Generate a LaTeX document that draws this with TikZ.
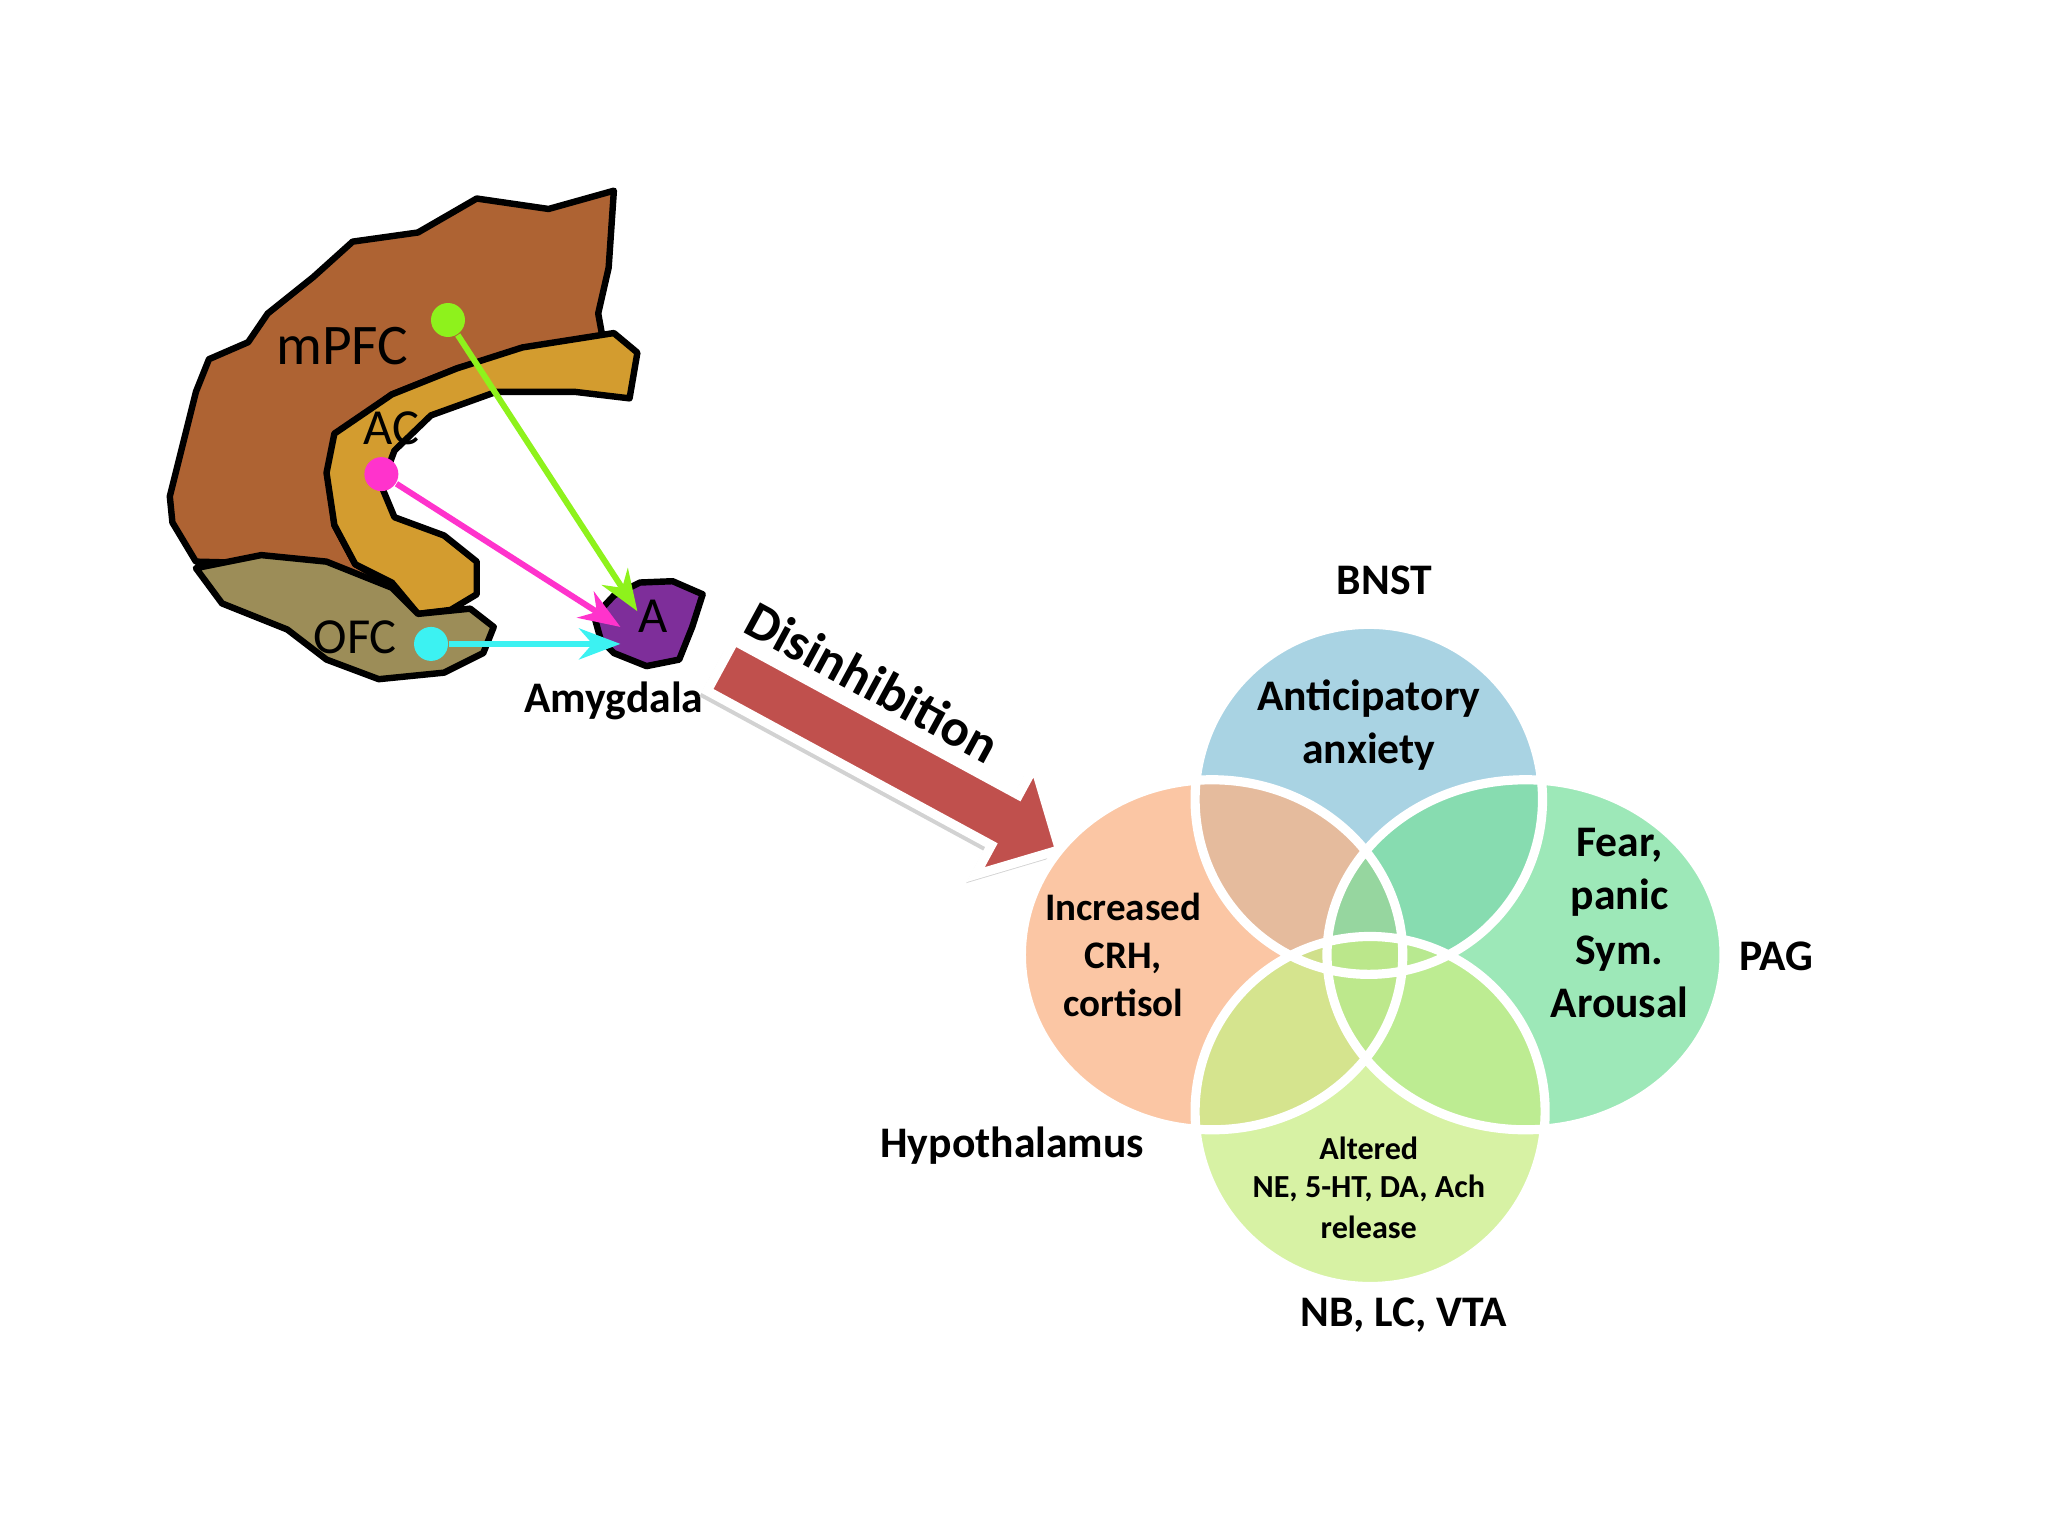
\documentclass[tikz,border=0pt]{standalone}
\usepackage{fontspec}
\setmainfont{Carlito}
\usetikzlibrary{shapes.arrows,arrows.meta}
\definecolor{pfcbrown}{HTML}{AE6333}
\definecolor{acgold}{HTML}{D39C2F}
\definecolor{ofcolive}{HTML}{9C8D58}
\definecolor{amypurple}{HTML}{7E2E9A}
\definecolor{dotgreen}{HTML}{8EF21C}
\definecolor{dotpink}{HTML}{FF33CC}
\definecolor{dotcyan}{HTML}{3CF2F2}
\definecolor{disred}{HTML}{C0504D}
\definecolor{vblue}{HTML}{8CC4DA}
\definecolor{vorange}{HTML}{F9B386}
\definecolor{vgreen}{HTML}{7CE0A0}
\definecolor{vlime}{HTML}{C9EE86}
\begin{document}
\begin{tikzpicture}
  [x=0.01cm,y=-0.01cm,every node/.style={font=\bfseries\fontsize{9.5}{11.5}\selectfont,align=center}]

  \tikzstyle{region} = [draw=black,line width=1.4pt,line join=round]
  \tikzstyle{dot} = [circle,inner sep=0pt,minimum size=0.26cm]
  \tikzstyle{path} = [line width=1.3pt,-{Stealth[length=9pt]}]
  \tikzstyle{venn} = [fill opacity=0.75]
  \tikzstyle{arr} = [single arrow,minimum width=0.95cm,single arrow head extend=0.18cm,
                     minimum height=2.95cm,rotate=-28.5]

  \useasboundingbox (0,0) rectangle (1568,1176);

  % brain regions
  \fill[region,fill=pfcbrown]
    (130,380) -- (150,300) -- (160,275) -- (190,262) -- (205,240) -- (240,212) -- (270,185)
    -- (320,178) -- (365,152) -- (420,160) -- (470,146) -- (466,205) -- (458,240) -- (462,262)
    -- (400,268) -- (350,282) -- (300,302) -- (262,330) -- (252,362) -- (256,402) -- (272,432)
    -- (300,448) -- (318,470) -- (280,452) -- (230,432) -- (150,430) -- (132,400) -- cycle;
  \fill[region,fill=acgold]
    (256,332) -- (300,302) -- (350,282) -- (400,266) -- (470,255) -- (488,270) -- (482,305)
    -- (440,300) -- (380,300) -- (330,318) -- (302,345) -- (292,372) -- (302,396) -- (340,410)
    -- (365,430) -- (365,455) -- (345,467) -- (320,470) -- (300,446) -- (272,432) -- (256,402)
    -- (250,362) -- cycle;
  \fill[region,fill=ofcolive]
    (150,435) -- (200,425) -- (250,430) -- (300,450) -- (320,470) -- (360,466) -- (378,480)
    -- (370,500) -- (340,515) -- (290,520) -- (250,505) -- (220,482) -- (170,462) -- cycle;
  \fill[region,fill=amypurple]
    (455,472) -- (470,456) -- (490,446) -- (515,445) -- (538,455) -- (530,480) -- (520,505)
    -- (495,510) -- (470,500) -- (460,490) -- cycle;

  \node[font=\fontsize{12.5}{14}\selectfont] (mpfc) at (262,265) {mPFC};
  \node[font=\fontsize{11}{13}\selectfont] (ac) at (300,328) {AC};
  \node[font=\fontsize{11}{13}\selectfont] (ofc) at (272,488) {OFC};
  \node[font=\fontsize{11}{13}\selectfont] (a) at (500,472) {A};
  \node (amyg) at (470,537) {Amygdala};

  \node[dot,fill=dotgreen] (g) at (343,245) {};
  \node[dot,fill=dotpink] (m) at (292,363) {};
  \node[dot,fill=dotcyan] (c) at (330,493) {};
  \coordinate (tg) at (488,468);
  \coordinate (tm) at (475,480);
  \coordinate (tc) at (475,493);
  \draw[path,dotgreen] (g) -- (tg);
  \draw[path,dotpink] (m) -- (tm);
  \draw[path,dotcyan] (c) -- (tc);

  % disinhibition arrow
  \node[arr,fill=gray!35] (shadow) at (666,582) {};
  \node[arr,fill=disred,draw=white,line width=2pt] (dis) at (672,575) {};
  \node[rotate=-28.5,font=\bfseries\fontsize{11.5}{13}\selectfont] (distext) at (668,522) {Disinhibition};

  % venn circles
  \fill[venn,fill=vblue] (1048,612) ellipse [x radius=133,y radius=134];
  \fill[venn,fill=vorange] (928,731) ellipse [x radius=146,y radius=134];
  \fill[venn,fill=vgreen] (1168,731) ellipse [x radius=152,y radius=134];
  \fill[venn,fill=vlime] (1049,851) ellipse [x radius=134,y radius=134];
  \draw[white,line width=2pt] (1048,612) ellipse [x radius=133,y radius=134]
    (928,731) ellipse [x radius=146,y radius=134]
    (1168,731) ellipse [x radius=152,y radius=134]
    (1049,851) ellipse [x radius=134,y radius=134];

  \node (bnst) at (1060,444) {BNST};
  \node (ant) at (1048,555) {Anticipatory\\anxiety};
  \node[font=\bfseries\fontsize{8.5}{10.5}\selectfont] (crh) at (860,731) {Increased\\CRH,\\cortisol};
  \node (fear) at (1240,668) {Fear,\\panic};
  \node (sym) at (1240,748) {Sym.\\Arousal};
  \node (pag) at (1360,732) {PAG};
  \node (hyp) at (775,877) {Hypothalamus};
  \node[font=\bfseries\fontsize{7}{8}\selectfont] (alt) at (1048,879) {Altered};
  \node[font=\bfseries\fontsize{7}{9}\selectfont] (ne) at (1048,924) {NE, 5-HT, DA, Ach\\release};
  \node (nb) at (1075,1007) {NB, LC, VTA};
\end{tikzpicture}
\end{document}
